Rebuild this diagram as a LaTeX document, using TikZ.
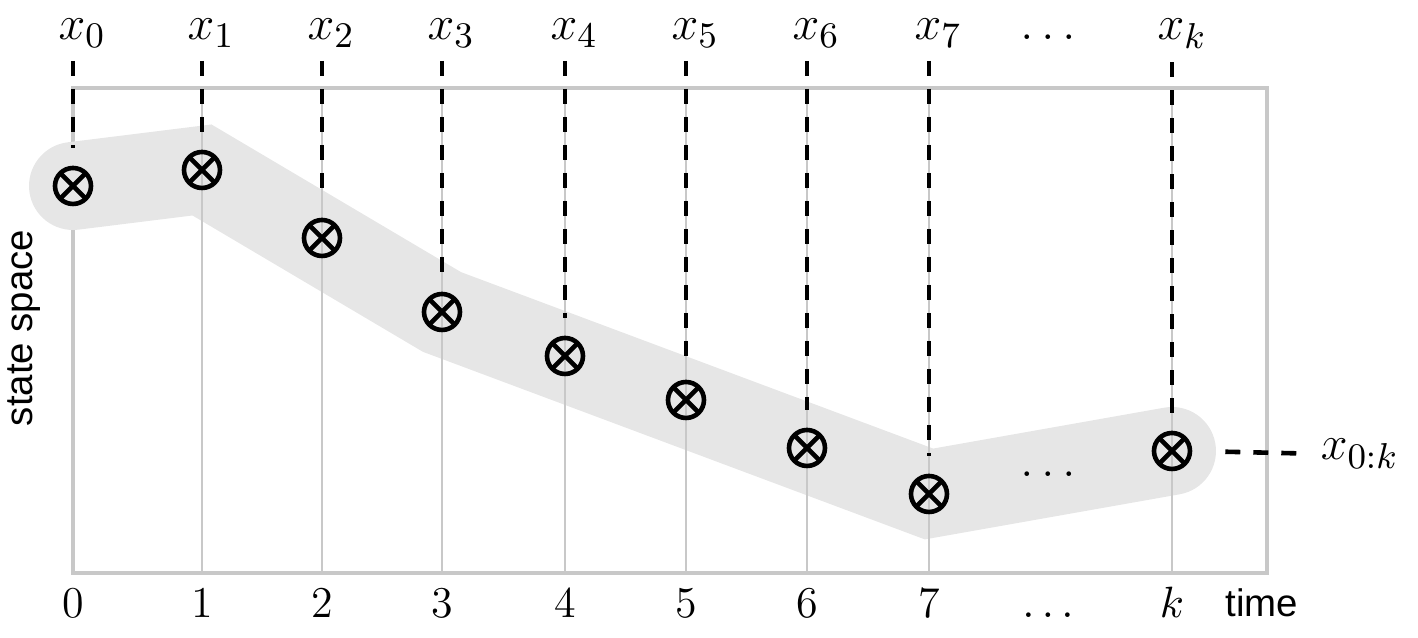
\documentclass[tikz,border=0pt]{standalone}
\usepackage{fontspec}
\usepackage{mathtools}
\newfontfamily\axisfont{Liberation Sans}
\definecolor{bandgray}{RGB}{230,230,230}
\definecolor{linegray}{RGB}{200,200,200}
\begin{document}
\begin{tikzpicture}[x=0.25pt,y=-0.25pt,
  band/.style={draw=bandgray,line width=22pt,line cap=round,line join=miter},
  tickline/.style={draw=linegray,line width=0.4pt},
  framebox/.style={draw=linegray,line width=0.8pt,inner sep=0pt,minimum width=298.5pt,minimum height=121.25pt},
  dashline/.style={draw=black,line width=1.15pt,dash pattern=on 3.75pt off 3.25pt},
  marker/.style={circle,draw=black,line width=1.15pt,minimum size=9pt,inner sep=0pt,
    path picture={\draw[line width=1.15pt] (path picture bounding box.center) +(45:4.5pt) -- +(225:4.5pt) +(135:4.5pt) -- +(315:4.5pt);}},
  toplabel/.style={inner sep=0pt,anchor=base,font=\fontsize{12.8}{14}\selectfont},
  numlabel/.style={inner sep=0pt,anchor=base,font=\fontsize{11}{13}\selectfont},
  axislabel/.style={inner sep=0pt,font=\axisfont\fontsize{9.6}{11}\selectfont}]
\useasboundingbox (0,0) rectangle (1418,638);
% positions of the states
\coordinate (c0) at (73,186);
\coordinate (c1) at (202,170);
\coordinate (c2) at (322,238);
\coordinate (c3) at (442,312);
\coordinate (c4) at (565,356);
\coordinate (c5) at (686,400);
\coordinate (c6) at (807,448);
\coordinate (c7) at (929,494);
\coordinate (ck) at (1172,451);
% frame
\node[framebox] (frame) at (670,330.5) {};
% band
\draw[band] (c0) -- (c1) -- (c3) -- (c7) -- (ck);
% tick lines
\foreach \i in {1,2,3,4,5,6,7,k}{
  \draw[tickline] (c\i |- frame.north) -- (c\i |- frame.south);
}
% markers
\foreach \i in {0,1,2,3,4,5,6,7,k}{
  \node[marker] (m\i) at (c\i) {};
}
% top labels
\foreach \i/\x in {0/73,1/202,2/322,3/442,4/565,5/686,6/807,7/929,k/1172}{
  \node[toplabel] (l\i) at (\x,40) {$x_{\mathrlap{\i}}$};
  \draw[dashline,shorten <=3.25pt,shorten >=4.5pt] (l\i.south) -- (m\i.north);
}
\node[toplabel] (ltdots) at (1048,40) {$\ldots$};
% middle dots
\node[toplabel] (mdots) at (1048,477) {$\ldots$};
% bottom numbers
\foreach \i/\x in {0/73,1/202,2/322,3/442,4/565,5/686,6/807,7/929}{
  \node[numlabel] (n\i) at (\x,618) {\i};
}
\node[numlabel] (nk) at (1172,618) {$k$};
\node[numlabel] (ndots) at (1048,618) {$\ldots$};
% axis labels
\node[axislabel,anchor=base] (time) at (1262,617) {time};
\node[axislabel,rotate=90] (state) at (24,328) {state space};
% trajectory label
\node[toplabel,anchor=base west] (l0k) at (1320,460) {$x_{0:k}$};
\draw[dashline,shorten <=8.25pt,shorten >=5pt] (mk.east) -- (l0k.west);
\end{tikzpicture}
\end{document}
